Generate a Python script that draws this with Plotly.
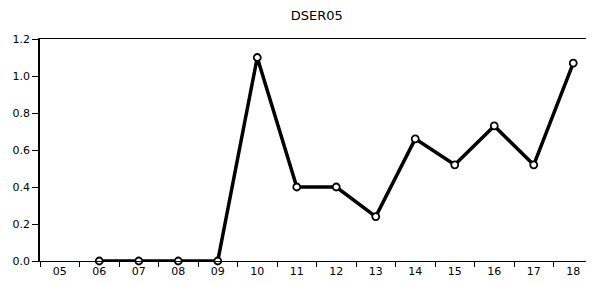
import plotly.graph_objects as go

categories = ["05", "06", "07", "08", "09", "10", "11", "12", "13", "14", "15", "16", "17", "18"]
values = [None, 0.0, 0.0, 0.0, 0.0, 1.10, 0.40, 0.40, 0.24, 0.66, 0.52, 0.73, 0.52, 1.07]
y_ticks = [0.0, 0.2, 0.4, 0.6, 0.8, 1.0, 1.2]
y_labels = ["0.0", "0.2", "0.4", "0.6", "0.8", "1.0", "1.2"]

W, H = 586, 275

fig = go.Figure()
fig.add_trace(go.Scatter(
    x=categories, y=values, mode="lines+markers",
    line=dict(color="black", width=3.5),
    marker=dict(symbol="circle", size=7, color="white", line=dict(color="black", width=1.8)),
    cliponaxis=False, connectgaps=False,
))

fig.update_layout(
    width=W, height=H,
    margin=dict(l=32, r=1, t=31, b=22, autoexpand=False),
    paper_bgcolor="white", plot_bgcolor="white",
    showlegend=False,
    title=dict(text="DSER05", xref="container", yref="container",
               x=308.7 / W, xanchor="center", y=1 - 2.5 / H, yanchor="top",
               pad=dict(t=0, b=0, l=0, r=0),
               font=dict(family="DejaVu Sans", size=13, color="black")),
    font=dict(family="DejaVu Sans", size=11, color="black"),
)
fig.update_xaxes(
    type="category", range=[-0.5, 13.5], tickson="boundaries",
    ticks="outside", ticklen=5, tickcolor="black", tickwidth=1,
    showline=True, linecolor="black", linewidth=1, mirror=True,
    showgrid=False, zeroline=False, automargin=False,
)
fig.update_yaxes(
    range=[0, 1.2], tickvals=y_ticks, ticktext=y_labels,
    ticks="outside", ticklen=6, tickcolor="black", tickwidth=1,
    showline=True, linecolor="black", linewidth=1.5, mirror=True,
    showgrid=False, zeroline=False, automargin=False,
)

fig.write_html("out.html")
